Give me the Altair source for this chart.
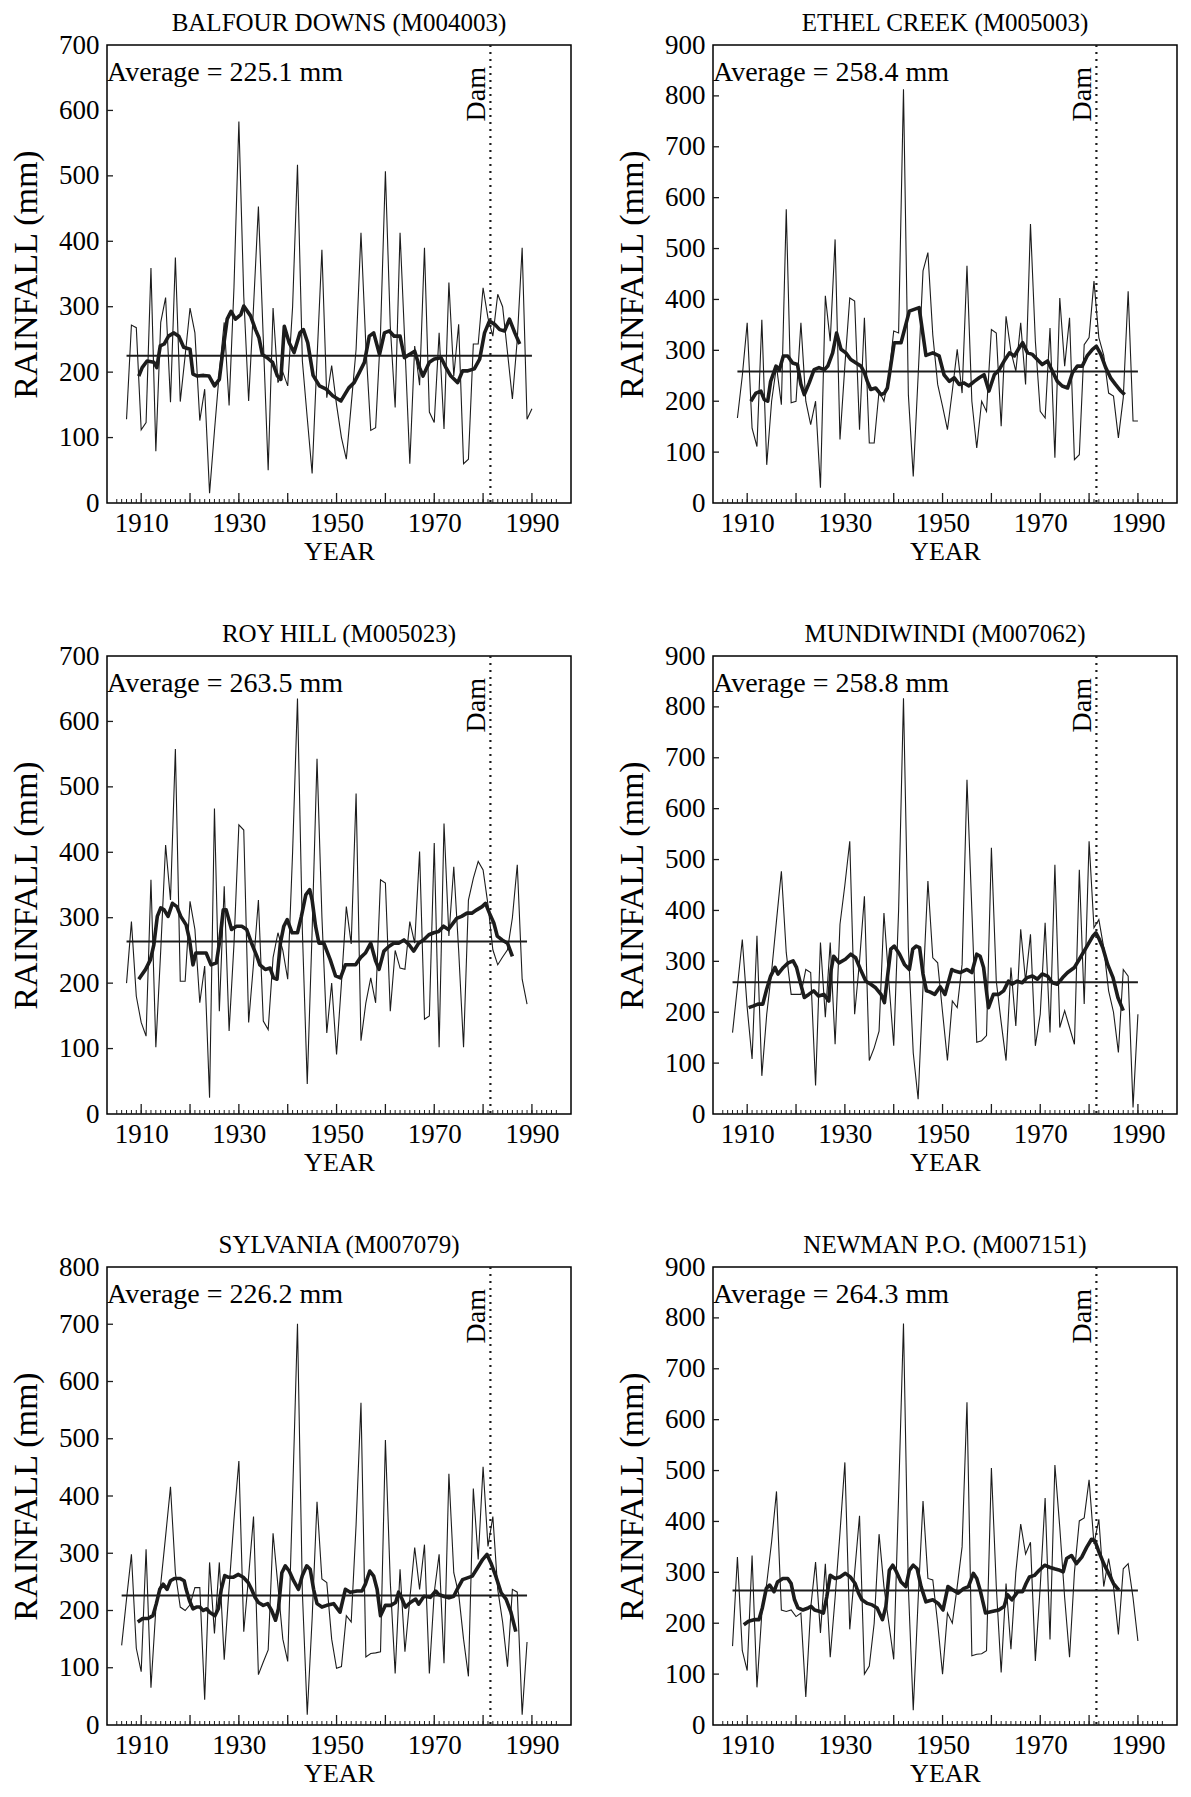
import altair as alt
import pandas as pd

FONT = "Liberation Serif"

# ---------------- data ----------------
titles = [
    "BALFOUR DOWNS (M004003)", "ETHEL CREEK (M005003)",
    "ROY HILL (M005023)", "MUNDIWINDI (M007062)",
    "SYLVANIA (M007079)", "NEWMAN P.O. (M007151)",
]
start_years = [1907, 1908, 1907, 1907, 1906, 1907]
averages = [225.1, 258.4, 263.5, 258.8, 226.2, 264.3]
y_max = [700, 900, 700, 900, 800, 900]

# annual rainfall (mm), one value per year from the start year
balfour = [128, 272, 268, 112, 123, 359, 79, 276, 314, 154,
           375, 155, 225, 298, 260, 126, 174, 15, 110, 200,
           276, 149, 330, 583, 316, 156, 300, 453, 250, 50,
           298, 184, 200, 179, 300, 517, 217, 130, 45, 220,
           387, 161, 210, 150, 100, 67, 150, 235, 413, 240,
           111, 115, 260, 507, 270, 146, 413, 240, 60, 240,
           180, 390, 139, 123, 260, 113, 337, 194, 273, 60,
           67, 243, 243, 329, 283, 255, 319, 300, 230, 159,
           250, 390, 128, 144]
ethel = [167, 250, 354, 147, 111, 360, 75, 200, 269, 193,
         577, 197, 200, 354, 200, 154, 200, 30, 407, 318,
         518, 125, 270, 403, 397, 144, 364, 118, 118, 220,
         200, 250, 338, 334, 813, 213, 52, 250, 456, 492,
         330, 233, 190, 144, 220, 302, 216, 466, 200, 108,
         200, 180, 341, 334, 151, 367, 298, 259, 354, 233,
         548, 318, 180, 167, 344, 89, 403, 269, 364, 85,
         95, 311, 325, 436, 325, 290, 216, 210, 128, 207,
         416, 161, 161]
royhill = [200, 294, 180, 140, 119, 358, 102, 250, 411, 327,
           558, 203, 203, 325, 282, 170, 226, 25, 467, 157,
           348, 127, 260, 442, 434, 140, 230, 327, 142, 129,
           239, 277, 250, 206, 400, 635, 280, 46, 280, 543,
           302, 124, 200, 91, 200, 317, 260, 490, 112, 170,
           208, 170, 358, 353, 157, 250, 223, 221, 294, 261,
           401, 145, 150, 414, 102, 444, 272, 378, 250, 102,
           327, 360, 386, 373, 320, 251, 228, 240, 251, 300,
           381, 206, 168]
mundiwindi = [160, 250, 343, 209, 108, 350, 75, 196, 280, 380,
              477, 317, 235, 235, 235, 284, 278, 56, 337, 190,
              337, 137, 373, 450, 536, 196, 300, 428, 105, 130,
              163, 395, 261, 134, 400, 817, 327, 120, 29, 250,
              458, 307, 297, 200, 105, 222, 209, 294, 657, 400,
              141, 144, 154, 523, 261, 180, 105, 288, 173, 363,
              261, 353, 134, 196, 376, 160, 490, 170, 203, 170,
              137, 480, 216, 536, 366, 382, 327, 242, 200, 121,
              284, 271, 13, 196]
sylvania = [139, 220, 298, 134, 93, 307, 65, 203, 246, 330,
            416, 266, 206, 200, 210, 240, 240, 44, 284, 160,
            284, 114, 240, 359, 461, 163, 260, 364, 88, 110,
            131, 335, 243, 150, 111, 400, 701, 232, 18, 186,
            390, 255, 249, 150, 99, 102, 191, 180, 350, 563,
            119, 125, 126, 128, 498, 250, 90, 272, 128, 220,
            310, 237, 315, 90, 232, 298, 108, 439, 266, 229,
            150, 85, 413, 289, 451, 312, 364, 237, 180, 102,
            237, 232, 18, 145]
newman = [155, 330, 146, 107, 333, 74, 220, 278, 360, 459,
          226, 223, 226, 213, 220, 55, 230, 320, 181, 317,
          133, 250, 378, 516, 188, 300, 411, 100, 116, 200,
          375, 272, 200, 129, 450, 789, 270, 29, 246, 440,
          288, 285, 200, 100, 220, 200, 272, 350, 634, 136,
          139, 140, 146, 505, 272, 103, 278, 149, 300, 395,
          336, 359, 126, 272, 446, 168, 511, 388, 250, 133,
          300, 401, 407, 482, 356, 404, 272, 327, 272, 178,
          307, 317, 250, 165]
series = [balfour, ethel, royhill, mundiwindi, sylvania, newman]

# running-mean curve (thick line) as (year, mm)
ma1_x = [1909.5, 1910.2, 1911.2, 1912.6, 1913.2, 1913.9, 1914.7, 1915.6, 1916.7, 1917.7,
         1918.7, 1920.0, 1920.6, 1921.5, 1922.8, 1923.9, 1925.0, 1926.0, 1926.6, 1927.6,
         1928.4, 1929.3, 1930.4, 1931.0, 1932.4, 1933.4, 1934.1, 1934.8, 1935.8, 1936.9,
         1937.9, 1938.6, 1939.3, 1940.3, 1941.3, 1942.5, 1943.2, 1944.1, 1945.2, 1946.5,
         1947.9, 1949.2, 1950.9, 1952.5, 1953.6, 1954.7, 1955.7, 1956.7, 1957.6, 1958.8,
         1959.8, 1960.8, 1961.8, 1963.0, 1963.9, 1964.9, 1966.0, 1967.0, 1967.7, 1969.0,
         1970.0, 1971.4, 1972.4, 1973.4, 1974.8, 1975.8, 1976.9, 1978.2, 1979.3, 1980.3,
         1981.3, 1982.4, 1983.4, 1984.4, 1985.4, 1986.5, 1987.5]
ma1_y = [194, 207, 217, 215, 207, 240, 243, 255, 260, 255,
         238, 235, 197, 194, 195, 194, 179, 189, 225, 281,
         293, 281, 288, 301, 286, 265, 253, 227, 222, 215,
         194, 189, 270, 245, 230, 260, 265, 245, 195, 179,
         174, 164, 156, 176, 184, 200, 215, 255, 260, 227,
         260, 263, 255, 255, 222, 227, 232, 207, 194, 215,
         220, 222, 207, 194, 184, 202, 202, 205, 220, 260,
         278, 273, 265, 263, 281, 260, 243]
ma2_x = [1910.75, 1911.8, 1912.8, 1913.5, 1914.2, 1914.8, 1915.9, 1916.6, 1917.4, 1918.3,
         1919.3, 1920.3, 1921.0, 1921.7, 1922.7, 1923.7, 1924.7, 1925.8, 1926.5, 1927.5,
         1928.3, 1929.2, 1930.2, 1931.2, 1932.3, 1933.3, 1934.0, 1934.6, 1935.3, 1936.3,
         1937.4, 1938.1, 1938.7, 1939.4, 1940.1, 1941.5, 1943.2, 1945.2, 1946.6, 1948.0,
         1949.3, 1950.3, 1951.4, 1952.4, 1953.4, 1954.4, 1955.4, 1956.5, 1957.5, 1958.5,
         1959.5, 1960.6, 1961.6, 1962.6, 1963.7, 1964.7, 1965.7, 1966.4, 1967.4, 1968.4,
         1969.4, 1970.4, 1971.5, 1972.5, 1973.5, 1974.5, 1975.6, 1976.6, 1977.6, 1978.6,
         1979.6, 1980.7, 1981.5, 1982.4, 1983.4, 1984.4, 1985.4, 1986.5, 1987.3]
ma2_y = [200, 216, 220, 203, 200, 239, 269, 262, 289, 289,
         275, 272, 233, 213, 236, 262, 266, 262, 269, 295,
         334, 302, 295, 282, 275, 269, 256, 239, 223, 226,
         213, 216, 226, 270, 315, 315, 377, 384, 290, 295,
         289, 252, 239, 246, 233, 236, 230, 239, 246, 252,
         220, 252, 262, 279, 295, 289, 305, 315, 295, 292,
         282, 272, 279, 259, 239, 230, 226, 256, 269, 269,
         289, 302, 308, 292, 266, 246, 233, 220, 213]
ma3_x = [1909.5, 1910.9, 1911.9, 1912.6, 1913.3, 1914.0, 1914.7, 1915.5, 1916.4, 1917.3,
         1918.1, 1919.2, 1919.9, 1920.6, 1921.2, 1922.3, 1923.3, 1924.3, 1925.4, 1926.1,
         1926.8, 1927.4, 1928.5, 1929.5, 1930.6, 1931.6, 1932.6, 1933.7, 1934.3, 1935.4,
         1936.4, 1937.1, 1937.8, 1938.5, 1939.2, 1939.9, 1940.9, 1942.0, 1942.8, 1943.7,
         1944.5, 1945.0, 1945.7, 1946.4, 1947.4, 1948.7, 1949.8, 1950.8, 1951.8, 1952.9,
         1953.9, 1954.9, 1955.9, 1957.0, 1958.0, 1958.7, 1959.7, 1960.7, 1961.7, 1962.7,
         1963.8, 1964.8, 1965.8, 1966.8, 1967.8, 1968.9, 1969.9, 1970.9, 1971.9, 1972.9,
         1973.9, 1974.6, 1975.6, 1976.7, 1977.7, 1978.7, 1979.8, 1980.5, 1981.3, 1982.2,
         1982.9, 1983.9, 1985.0, 1986.0]
ma3_y = [206, 221, 236, 259, 302, 315, 312, 302, 322, 317,
         302, 289, 266, 228, 246, 246, 246, 228, 231, 266,
         312, 312, 282, 287, 287, 282, 261, 241, 228, 221,
         223, 208, 206, 261, 287, 297, 277, 277, 302, 335,
         343, 327, 287, 261, 261, 236, 211, 208, 228, 228,
         228, 239, 246, 261, 234, 221, 249, 256, 261, 261,
         266, 259, 249, 261, 266, 274, 277, 279, 287, 282,
         292, 299, 302, 307, 307, 312, 317, 322, 307, 292,
         272, 266, 261, 241]
ma4_x = [1910.3, 1911.2, 1912.2, 1913.2, 1913.9, 1914.8, 1915.7, 1916.3, 1917.4, 1918.4,
         1919.4, 1920.1, 1920.8, 1921.7, 1922.6, 1923.6, 1924.6, 1925.7, 1926.7, 1927.2,
         1927.7, 1928.8, 1930.1, 1931.2, 1932.2, 1933.2, 1934.3, 1935.3, 1936.3, 1937.4,
         1938.1, 1939.4, 1940.1, 1941.2, 1942.2, 1943.2, 1943.9, 1944.6, 1945.3, 1946.0,
         1946.7, 1947.4, 1948.4, 1949.5, 1950.5, 1951.9, 1952.5, 1953.6, 1955.0, 1956.0,
         1957.0, 1957.7, 1958.4, 1959.4, 1960.4, 1961.5, 1962.5, 1963.5, 1964.2, 1965.3,
         1966.3, 1967.3, 1968.4, 1969.4, 1970.4, 1971.5, 1972.5, 1973.5, 1974.6, 1975.6,
         1977.0, 1978.0, 1979.4, 1980.8, 1981.4, 1982.1, 1982.8, 1983.8, 1984.9, 1985.9,
         1987.0]
ma4_y = [209, 212, 216, 216, 242, 271, 288, 275, 288, 297,
         301, 288, 261, 229, 235, 242, 232, 235, 222, 284,
         310, 297, 304, 314, 307, 284, 261, 255, 248, 235,
         219, 324, 330, 314, 294, 284, 324, 330, 327, 275,
         242, 240, 235, 250, 235, 284, 281, 278, 284, 278,
         314, 310, 288, 209, 235, 235, 242, 261, 255, 261,
         258, 268, 271, 265, 275, 271, 258, 255, 268, 278,
         288, 304, 327, 350, 356, 343, 327, 294, 268, 229,
         203]
ma5_x = [1909.3, 1910.3, 1911.4, 1912.4, 1913.1, 1913.8, 1914.5, 1915.3, 1916.0, 1916.8,
         1917.9, 1918.8, 1919.2, 1919.9, 1920.6, 1921.3, 1922.0, 1922.7, 1923.4, 1924.0,
         1925.1, 1925.8, 1926.4, 1927.1, 1927.9, 1928.8, 1929.9, 1930.9, 1931.9, 1932.6,
         1933.3, 1934.0, 1935.0, 1935.9, 1936.7, 1937.5, 1938.1, 1938.8, 1939.5, 1940.3,
         1941.2, 1942.2, 1943.0, 1943.9, 1944.6, 1945.3, 1946.0, 1947.0, 1948.0, 1949.4,
         1950.7, 1951.8, 1952.8, 1954.2, 1955.2, 1955.9, 1956.8, 1957.6, 1958.3, 1959.0,
         1960.0, 1961.1, 1962.1, 1962.7, 1963.4, 1964.1, 1965.1, 1966.2, 1966.8, 1967.9,
         1969.2, 1970.3, 1970.9, 1971.9, 1973.0, 1974.0, 1974.7, 1975.8, 1976.8, 1977.8,
         1978.9, 1979.9, 1980.8, 1981.6, 1982.6, 1983.7, 1984.7, 1985.7, 1986.7]
ma5_y = [180, 186, 186, 191, 212, 237, 246, 237, 252, 256,
         256, 252, 237, 217, 203, 206, 206, 200, 203, 197,
         191, 203, 237, 261, 258, 258, 263, 258, 249, 237,
         223, 214, 209, 212, 200, 183, 203, 266, 278, 269,
         252, 237, 261, 278, 272, 237, 212, 206, 209, 212,
         197, 237, 232, 234, 234, 246, 269, 260, 237, 191,
         209, 209, 214, 232, 220, 206, 214, 220, 211, 225,
         223, 234, 228, 225, 222, 225, 237, 254, 257, 260,
         275, 289, 298, 283, 260, 231, 220, 197, 163]
ma6_x = [1909.3, 1910.3, 1911.4, 1912.4, 1913.1, 1913.9, 1914.6, 1915.5, 1916.2, 1917.3,
         1918.3, 1919.0, 1919.7, 1920.4, 1921.4, 1922.5, 1923.1, 1923.8, 1924.9, 1925.6,
         1926.3, 1927.0, 1928.0, 1929.0, 1930.1, 1931.1, 1932.1, 1932.8, 1933.5, 1934.6,
         1935.6, 1936.6, 1937.7, 1938.4, 1939.1, 1939.8, 1940.4, 1941.5, 1942.5, 1943.2,
         1944.0, 1944.8, 1945.6, 1946.6, 1948.0, 1949.1, 1950.1, 1951.1, 1952.2, 1953.2,
         1954.3, 1955.3, 1956.3, 1957.0, 1957.7, 1958.8, 1960.1, 1961.5, 1962.6, 1963.3,
         1964.2, 1965.4, 1966.4, 1967.1, 1967.8, 1968.8, 1969.8, 1970.9, 1971.9, 1972.9,
         1974.0, 1974.7, 1975.4, 1976.4, 1977.4, 1978.5, 1979.5, 1980.5, 1981.2, 1981.9,
         1983.0, 1984.0, 1985.0, 1986.1]
ma6_y = [197, 204, 207, 207, 230, 268, 275, 262, 281, 288,
         288, 278, 246, 230, 226, 230, 233, 226, 223, 220,
         252, 294, 288, 291, 298, 291, 278, 259, 246, 239,
         236, 230, 207, 233, 304, 314, 304, 281, 272, 304,
         314, 307, 272, 242, 246, 239, 226, 272, 265, 259,
         268, 272, 298, 288, 265, 220, 223, 226, 233, 256,
         246, 262, 262, 278, 291, 294, 304, 314, 310, 307,
         304, 301, 327, 333, 317, 330, 349, 365, 362, 343,
         317, 298, 278, 265]
ma_xs = [ma1_x, ma2_x, ma3_x, ma4_x, ma5_x, ma6_x]
ma_ys = [ma1_y, ma2_y, ma3_y, ma4_y, ma5_y, ma6_y]

dam_year = 1981.5
x_labels = [1910, 1930, 1950, 1970, 1990]
minor_ticks = list(range(1905, 1996))
major_ticks = list(range(1910, 1991, 10))
x_domain = [1903, 1998]

W, H = 464, 458
INK = "#1c1c1c"


def panel(i):
    title, start, vals = titles[i], start_years[i], series[i]
    avg, ymax = averages[i], y_max[i]
    df = pd.DataFrame({"Year": list(range(start, start + len(vals))), "Rain": vals})
    ma_df = pd.DataFrame({"Year": ma_xs[i], "MA": ma_ys[i]})
    xs = alt.Scale(domain=x_domain, nice=False, zero=False)
    ys = alt.Scale(domain=[0, ymax], nice=False, zero=True)
    x_axis = alt.Axis(
        values=x_labels, format="d", title="YEAR", ticks=False, domain=False,
        grid=False, labelFont=FONT, labelFontSize=27, labelColor="black",
        titleFont=FONT, titleFontSize=26, titleFontWeight="normal",
        titleColor="black", labelPadding=7, titlePadding=2)
    y_axis = alt.Axis(
        values=list(range(0, ymax + 1, 100)), title="RAINFALL (mm)",
        ticks=False, domain=False, grid=False, labelFont=FONT,
        labelFontSize=27, labelColor="black", titleFont=FONT,
        titleFontSize=34, titleFontWeight="normal", titleColor="black",
        labelPadding=8, titlePadding=15)

    thin = alt.Chart(df).mark_line(color=INK, strokeWidth=1.1).encode(
        x=alt.X("Year:Q", scale=xs, axis=x_axis),
        y=alt.Y("Rain:Q", scale=ys, axis=y_axis),
    )
    ma = alt.Chart(ma_df).mark_line(
        color=INK, strokeWidth=3.6, strokeJoin="round"
    ).encode(
        x=alt.X("Year:Q", scale=xs, axis=x_axis),
        y=alt.Y("MA:Q", scale=ys, axis=y_axis),
    )
    avg_df = pd.DataFrame({"x1": [start], "x2": [start + len(vals) - 1], "avg": [avg]})
    avg_rule = alt.Chart(avg_df).mark_rule(color=INK, strokeWidth=2).encode(
        x=alt.X("x1:Q", scale=xs, axis=x_axis), x2="x2:Q",
        y=alt.Y("avg:Q", scale=ys, axis=y_axis),
    )
    dam_df = pd.DataFrame({"dam": [dam_year], "label": ["Dam"]})
    dam_rule = alt.Chart(dam_df).mark_rule(
        color=INK, strokeWidth=2.2, strokeDash=[2, 5]
    ).encode(x=alt.X("dam:Q", scale=xs, axis=x_axis))
    dam_text = alt.Chart(dam_df).mark_text(
        font=FONT, fontSize=28, angle=270, align="right", baseline="alphabetic",
        dy=-5, color="black"
    ).encode(x=alt.X("dam:Q", scale=xs, axis=x_axis), y=alt.value(22), text="label:N")
    lab_df = pd.DataFrame({"label": [f"Average = {avg} mm"]})
    avg_text = alt.Chart(lab_df).mark_text(
        font=FONT, fontSize=28, align="left", baseline="alphabetic", color="black"
    ).encode(x=alt.value(0), y=alt.value(36), text="label:N")

    minor = alt.Chart(pd.DataFrame({"t": minor_ticks})).mark_rule(
        color=INK, strokeWidth=1).encode(
        x=alt.X("t:Q", scale=xs, axis=x_axis), y=alt.value(H), y2=alt.value(H - 4))
    major = alt.Chart(pd.DataFrame({"t": major_ticks})).mark_rule(
        color=INK, strokeWidth=1.3).encode(
        x=alt.X("t:Q", scale=xs, axis=x_axis), y=alt.value(H), y2=alt.value(H - 10))
    yt = alt.Chart(pd.DataFrame({"t": list(range(100, ymax, 100))})).mark_rule(
        color=INK, strokeWidth=1.3).encode(
        y=alt.Y("t:Q", scale=ys, axis=y_axis), x=alt.value(0), x2=alt.value(6))

    return alt.layer(thin, ma, avg_rule, dam_rule, dam_text, avg_text,
                     minor, major, yt).properties(
        width=W, height=H,
        title=alt.TitleParams(title, font=FONT, fontSize=25, fontWeight="normal",
                              color="black", anchor="middle", offset=-5),
    )


panels = [panel(i) for i in range(6)]
rows = [alt.hconcat(panels[0], panels[1], spacing=42),
        alt.hconcat(panels[2], panels[3], spacing=42),
        alt.hconcat(panels[4], panels[5], spacing=42)]
chart = alt.vconcat(*rows, spacing=56).properties(
    padding={"left": 0, "top": 2, "right": 5, "bottom": 2},
    background="white",
).configure_view(stroke="black", strokeWidth=1.5)

chart.save("out.html", embed_options={"renderer": "svg", "actions": False})
